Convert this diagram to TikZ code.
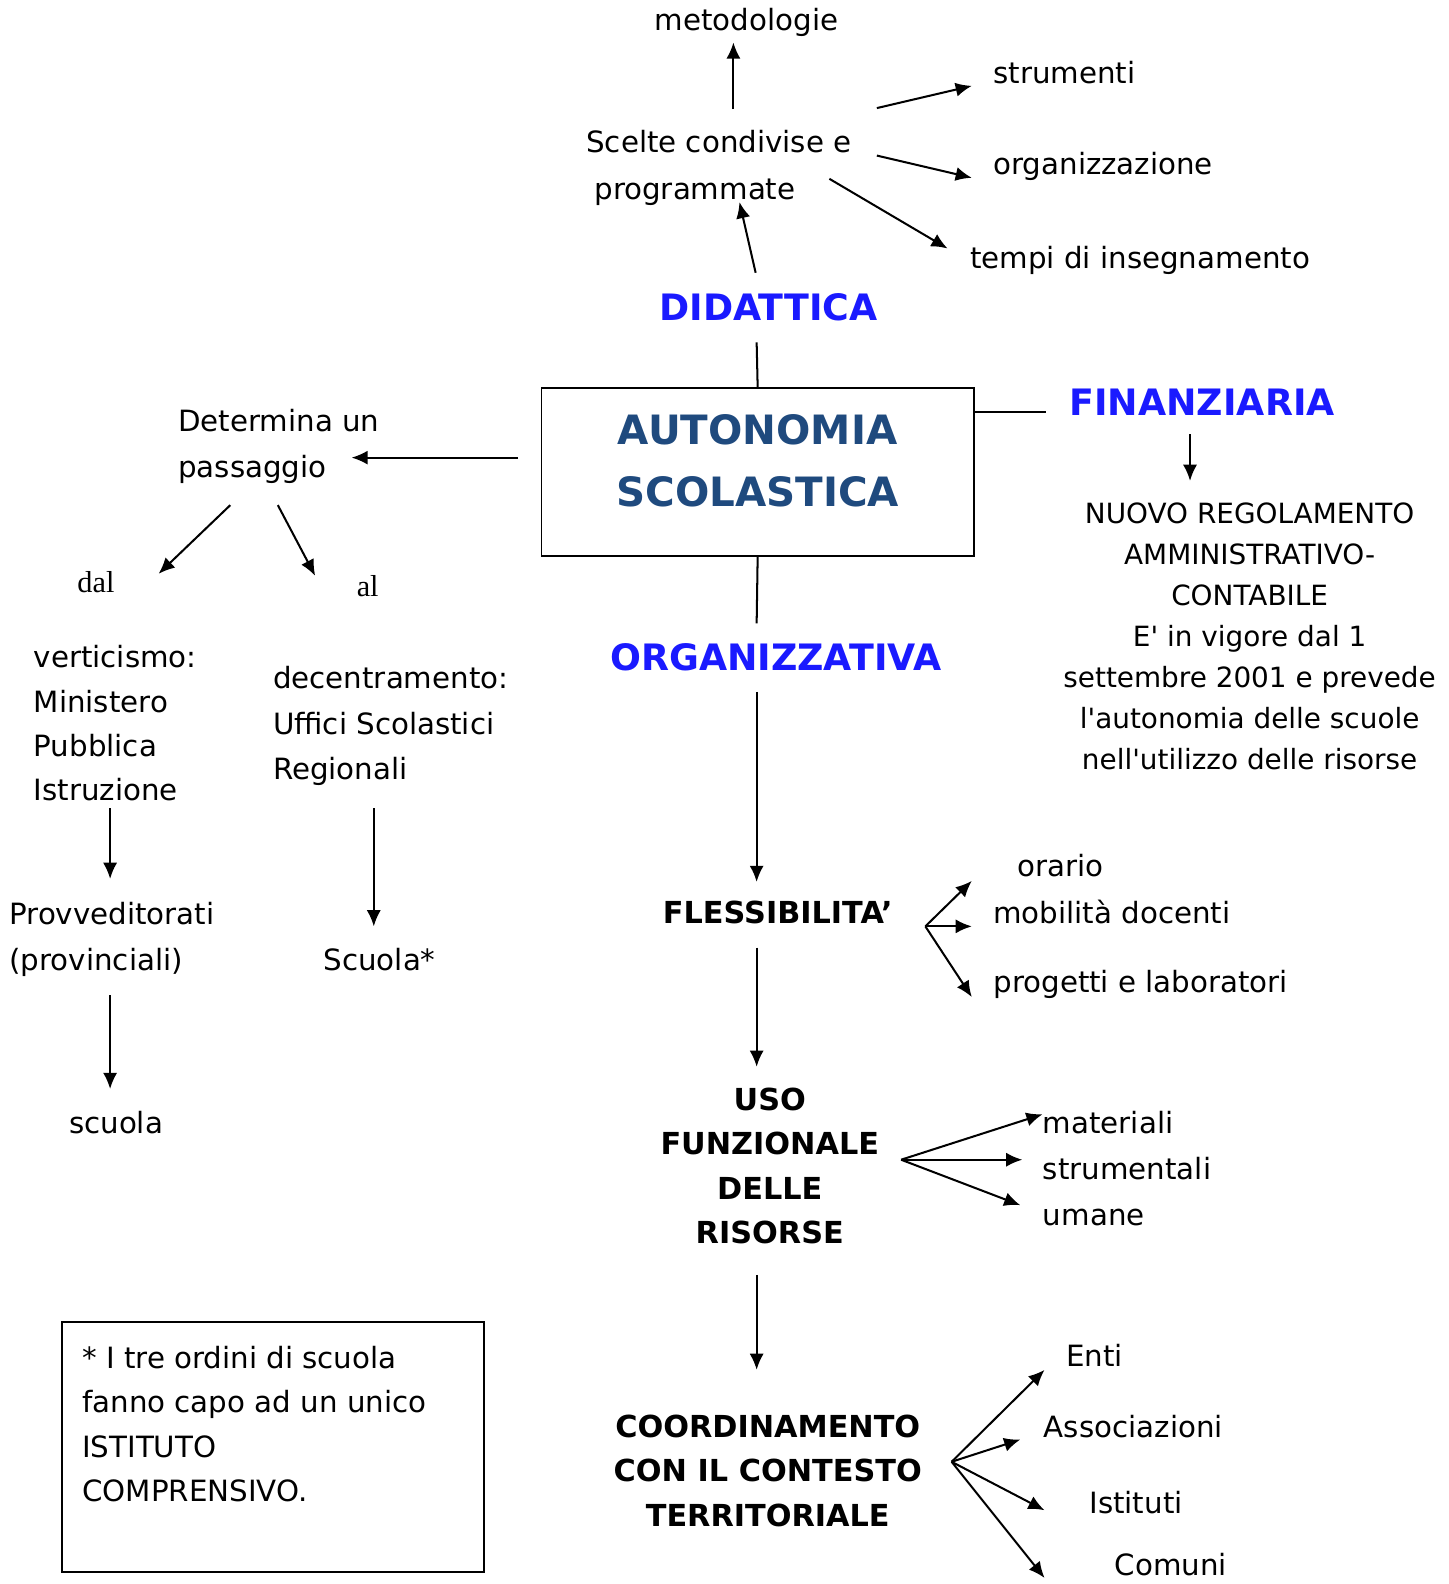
\documentclass[tikz,border=0pt]{standalone}
\usepackage{fontspec}
\setmainfont{DejaVu Sans}[Ligatures=TeXOff]
\newfontfamily\timesfam{Liberation Serif}
\usetikzlibrary{arrows.meta}
\definecolor{headblue}{RGB}{26,26,255}
\definecolor{navy}{RGB}{31,74,126}
\tikzset{
  txt/.style={inner sep=0pt, font=\fontsize{14.5}{23}\selectfont},
  txtl/.style={txt, anchor=west, align=left},
  head/.style={inner sep=0pt, text=headblue, font=\fontsize{18}{22}\bfseries\selectfont},
  blk/.style={inner sep=0pt, align=center, font=\fontsize{15}{22}\bfseries\selectfont},
  conn/.style={line width=1pt},
  arr/.style={conn, -{Latex[length=8pt,width=7pt]}},
}
\begin{document}
\begin{tikzpicture}[x=0.5pt, y=-0.5pt]
\useasboundingbox (0,0) rectangle (1434,1568);

% central box
\node[draw, line width=0.9pt, minimum width=214pt, minimum height=83pt, inner sep=0pt] (auto) at (750,467) {};
\node[inner sep=0pt, align=center, text=navy, font=\fontsize{20}{30.5}\bfseries\selectfont] (autotxt) at (750,456)
      {AUTONOMIA\\SCOLASTICA};

% didattica branch
\node[head] (did) at (761,304) {DIDATTICA};
\node[txtl, anchor=north west] (scelte) at (580,129) {Scelte condivise e\\\hspace*{4pt}programmate};
\node[txt] (metod) at (739,22) {metodologie};
\node[txtl] (strum) at (983,72) {strumenti};
\node[txtl] (organ) at (983,165) {organizzazione};
\node[txtl] (tempi) at (960,258) {tempi di insegnamento};

\coordinate (didtop) at (748,270);
\coordinate (scbot) at (732,200);
\coordinate (sctop) at (726,108);
\coordinate (mtbot) at (726,42);
\coordinate (s1) at (868,107); \coordinate (e1) at (962,85);
\coordinate (s2) at (868,154); \coordinate (e2) at (962,176);
\coordinate (s3) at (821,177); \coordinate (e3) at (938,246);
\coordinate (didbot) at (749,339);

\draw[arr] (didtop) -- (scbot);
\draw[arr] (sctop) -- (mtbot);
\draw[arr] (s1) -- (e1);
\draw[arr] (s2) -- (e2);
\draw[arr] (s3) -- (e3);
\draw[conn] (didbot) -- (auto.north);

% finanziaria branch
\node[head] (fin) at (1190,398) {FINANZIARIA};
\coordinate (finleft) at (1035,408);
\draw[conn] (auto.east |- finleft) -- (finleft);
\coordinate (fa) at (1178,430); \coordinate (fb) at (1178,476);
\draw[arr] (fa) -- (fb);
\node[inner sep=0pt, align=center, font=\fontsize{13.8}{20.3}\selectfont] (nuovo) at (1237,630)
  {NUOVO REGOLAMENTO\\AMMINISTRATIVO-\\CONTABILE\\E' in vigore dal 1\\settembre 2001 e prevede\\l'autonomia delle scuole\\nell'utilizzo delle risorse};

% left branch
\node[txtl] (det) at (176,442) {Determina un\\passaggio};
\coordinate (aleft) at (348,453);
\coordinate (aright) at (513,453);
\draw[arr] (aright) -- (aleft);
\node[inner sep=0pt, font=\timesfam\fontsize{15}{18}\selectfont] (dal) at (95,576) {dal};
\node[inner sep=0pt, font=\timesfam\fontsize{15}{18}\selectfont] (al) at (364,580) {al};
\coordinate (d1) at (228,500); \coordinate (d2) at (157,568);
\coordinate (a1) at (275,500); \coordinate (a2) at (312,570);
\draw[arr] (d1) -- (d2);
\draw[arr] (a1) -- (a2);

\node[txtl, font=\fontsize{14.5}{22}\selectfont] (vert) at (33,716) {verticismo:\\Ministero\\Pubblica\\Istruzione};
\node[txtl, font=\fontsize{14.5}{22.5}\selectfont] (dec) at (270,719) {decentramento:\\Uffici Scolastici\\Regionali};
\node[txtl, font=\fontsize{14.5}{22.5}\selectfont] (prov) at (9,930) {Provveditorati\\(provinciali)};
\node[txtl] (scuola) at (68,1111) {scuola};
\node[txtl] (scuolas) at (320,950) {Scuola*};
\coordinate (v1) at (109,800); \coordinate (v2) at (109,870);
\coordinate (p1) at (109,985); \coordinate (p2) at (109,1078);
\coordinate (u1) at (370,800); \coordinate (u2) at (370,917);
\draw[arr] (v1) -- (v2);
\draw[arr] (p1) -- (p2);
\draw[arr] (u1) -- (u2);

% organizzativa branch
\node[head] (org) at (768,651) {ORGANIZZATIVA};
\coordinate (orgtop) at (749,617);
\draw[conn] (auto.south) -- (orgtop);
\node[blk] (fless) at (770,903) {FLESSIBILITA’};
\coordinate (o1) at (749,685); \coordinate (o2) at (749,873);
\draw[arr] (o1) -- (o2);
\coordinate (ffork) at (916,917);
\coordinate (fe1) at (962,872); \coordinate (fe2) at (962,917); \coordinate (fe3) at (962,987);
\draw[arr] (ffork) -- (fe1);
\draw[arr] (ffork) -- (fe2);
\draw[arr] (ffork) -- (fe3);
\node[txtl] (orario) at (1007,857) {orario};
\node[txtl] (mobil) at (983,903) {mobilità docenti};
\node[txtl] (prog) at (983,974) {progetti e laboratori};

\node[blk] (uso) at (762,1154) {USO\\FUNZIONALE\\DELLE\\RISORSE};
\coordinate (f1) at (749,938); \coordinate (f2) at (749,1056);
\draw[arr] (f1) -- (f2);
\coordinate (ufork) at (892,1148);
\coordinate (ue1) at (1032,1103); \coordinate (ue2) at (1012,1148); \coordinate (ue3) at (1010,1193);
\draw[arr] (ufork) -- (ue1);
\draw[arr] (ufork) -- (ue2);
\draw[arr] (ufork) -- (ue3);
\node[txtl] (mat) at (1032,1111) {materiali};
\node[txtl] (strumt) at (1032,1157) {strumentali};
\node[txtl] (umane) at (1032,1205) {umane};

\node[blk] (coord) at (760,1456) {COORDINAMENTO\\CON IL CONTESTO\\TERRITORIALE};
\coordinate (r1) at (749,1262); \coordinate (r2) at (749,1356);
\draw[arr] (r1) -- (r2);
\coordinate (cfork) at (942,1447);
\coordinate (ce1) at (1034,1356); \coordinate (ce2) at (1010,1425);
\coordinate (ce3) at (1034,1495); \coordinate (ce4) at (1034,1562);
\draw[arr] (cfork) -- (ce1);
\draw[arr] (cfork) -- (ce2);
\draw[arr] (cfork) -- (ce3);
\draw[arr] (cfork) -- (ce4);
\node[txtl] (enti) at (1055,1342) {Enti};
\node[txtl] (assoc) at (1033,1412) {Associazioni};
\node[txtl] (istit) at (1078,1487) {Istituti};
\node[txtl] (comuni) at (1103,1549) {Comuni};

% footnote box
\node[draw, line width=0.9pt, minimum width=209pt, minimum height=123.5pt, inner sep=0pt] (note) at (270,1432.5) {};
\node[txtl, anchor=north west, font=\fontsize{14.5}{22}\selectfont] (notetxt) at (81,1332)
  {* I tre ordini di scuola\\fanno capo ad un unico\\ISTITUTO\\COMPRENSIVO.};
\end{tikzpicture}
\end{document}
